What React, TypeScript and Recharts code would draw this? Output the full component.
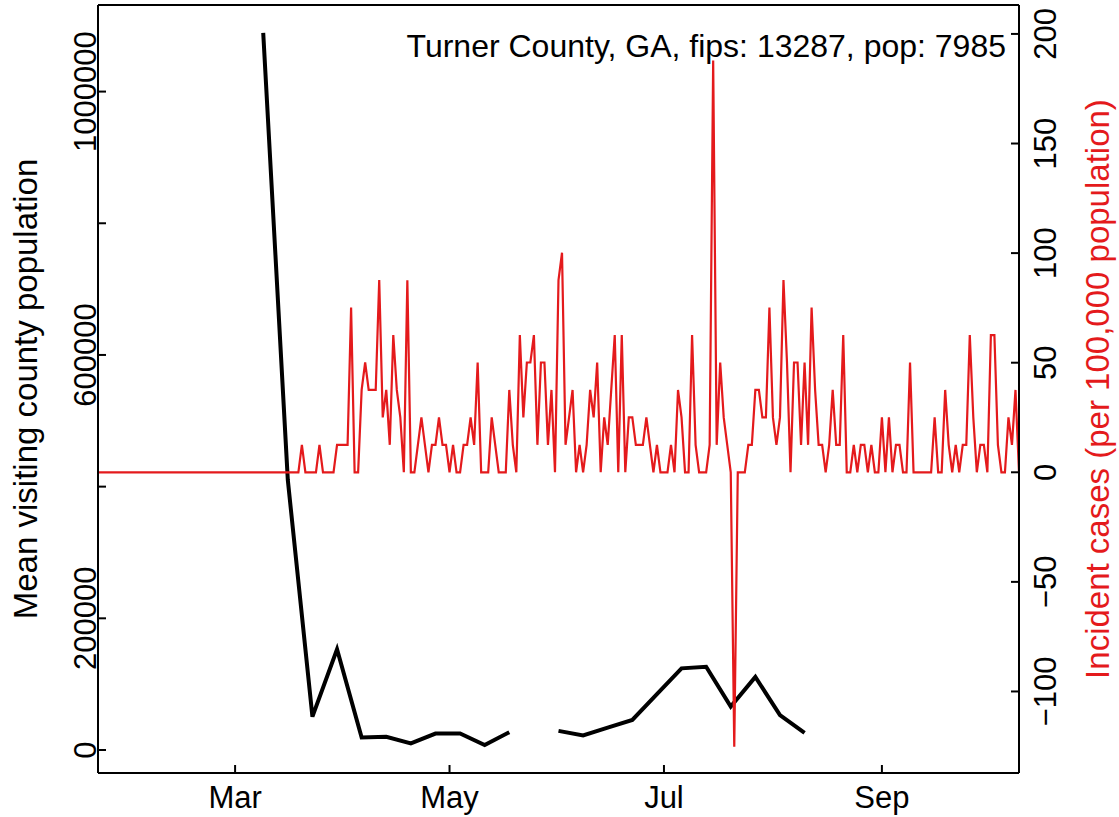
import { LineChart, Line, XAxis, YAxis, Label, ReferenceLine } from "recharts";

const FONT = "Liberation Sans, Arial, Helvetica, sans-serif";
const RED = "#E41A1C";

const COUNTY = "Turner County, GA, fips: 13287, pop: 7985";
const POPULATION = 7985;
const FIRST_DATE = "2020-01-22";

// daily new cases (counts), Jan 22 .. Oct 10 2020
const janCases = [0, 0, 0, 0, 0, 0, 0, 0, 0, 0];
const febCases = [
  0, 0, 0, 0, 0, 0, 0, 0, 0, 0, 0, 0, 0, 0, 0, 0, 0, 0, 0, 0, 0, 0, 0, 0, 0, 0, 0, 0, 0,
];
const marCases = [
  0, 0, 0, 0, 0, 0, 0, 0, 0, 0, 0, 0, 0, 0, 0, 0, 0, 0, 0, 1, 0, 0, 0, 0, 1, 0, 0, 0, 0, 1, 1,
];
const aprCases = [
  1, 1, 6, 0, 0, 3, 4, 3, 3, 3, 7, 2, 3, 1, 5, 3, 2, 0, 7, 0, 0, 1, 2, 1, 0, 1, 1, 2, 1, 1,
];
const mayCases = [
  0, 1, 0, 0, 1, 1, 2, 1, 4, 0, 0, 0, 2, 1, 0, 0, 0, 3, 1, 0, 5, 2, 4, 4, 5, 1, 4, 4, 1, 3, 0,
];
const junCases = [
  7, 8, 1, 2, 3, 0, 1, 0, 1, 3, 2, 4, 0, 2, 1, 3, 5, 0, 5, 0, 2, 2, 1, 1, 1, 2, 1, 0, 1, 0,
];
const julCases = [
  0, 0, 1, 0, 3, 2, 0, 0, 5, 1, 0, 0, 0, 1, 15, 1, 4, 2, 1, 0, -10, 0, 0, 0, 1, 1, 3, 3, 2, 2, 6,
];
const augCases = [
  2, 1, 2, 7, 4, 0, 4, 4, 1, 4, 1, 6, 3, 1, 1, 0, 1, 3, 1, 1, 5, 0, 0, 1, 0, 1, 1, 0, 1, 0, 0,
];
const sepCases = [
  2, 0, 2, 0, 1, 1, 0, 0, 4, 0, 0, 0, 0, 0, 0, 2, 0, 0, 3, 1, 0, 1, 0, 1, 1, 5, 2, 0, 1, 1,
];
const octCases = [0, 5, 5, 1, 0, 0, 2, 1, 3, 0];

// weekly mean visiting population
const visitWeeks = [
  "2020-03-09", "2020-03-16", "2020-03-23", "2020-03-30", "2020-04-06", "2020-04-13",
  "2020-04-20", "2020-04-27", "2020-05-04", "2020-05-11", "2020-05-18", "2020-05-25",
  "2020-06-01", "2020-06-08", "2020-06-15", "2020-06-22", "2020-06-29", "2020-07-06",
  "2020-07-13", "2020-07-20", "2020-07-27", "2020-08-03", "2020-08-10",
];
const visitors = [
  1089000, 410000, 50600, 153000, 19000, 20000, 10000, 25000, 25000, 7600, 27000, null,
  29000, 22000, 34000, 45600, 85000, 124000, 126500, 66000, 111000, 53000, 26000,
];

const tickDates = ["2020-03-01", "2020-05-01", "2020-07-01", "2020-09-01"];
const tickNames = ["Mar", "May", "Jul", "Sep"];
const popTicks = [0, 200000, 400000, 600000, 800000, 1000000];
const popLabels = [0, 200000, 600000, 1000000];
const caseTicks = [-100, -50, 0, 50, 100, 150, 200];
const popDomain = [-34930, 1131500];
const caseDomain = [-137.2, 213.2];

const dayOf = (d: string) =>
  Math.round((Date.parse(d) - Date.parse(FIRST_DATE)) / 86400000);

const allCases = [
  ...janCases, ...febCases, ...marCases, ...aprCases, ...mayCases,
  ...junCases, ...julCases, ...augCases, ...sepCases, ...octCases,
];
const caseData = allCases.map((c, i) => ({ day: i, rate: (c * 100000) / POPULATION }));
const visitData = visitWeeks.map((d, i) => ({ day: dayOf(d), visitors: visitors[i] }));
const lastDay = allCases.length - 1;
const tickDays = tickDates.map(dayOf);

const BottomTick = (props: any) => {
  const { x, y, payload } = props;
  const i = tickDays.indexOf(payload.value);
  return (
    <text x={x} y={y} textAnchor="middle" fontSize={31} fontFamily={FONT} fill="#000">
      {tickNames[i]}
    </text>
  );
};

const LeftTick = (props: any) => {
  const { x, y, payload } = props;
  if (!popLabels.includes(payload.value)) return <g />;
  return (
    <text
      x={x}
      y={y}
      transform={`rotate(-90 ${x} ${y})`}
      textAnchor="middle"
      fontSize={31}
      fontFamily={FONT}
      fill="#000"
    >
      {payload.value}
    </text>
  );
};

const RightTick = (props: any) => {
  const { x, y, payload } = props;
  return (
    <text
      x={x}
      y={y}
      transform={`rotate(-90 ${x} ${y})`}
      textAnchor="middle"
      fontSize={31}
      fontFamily={FONT}
      fill="#000"
    >
      {String(payload.value).replace("-", "\u2212")}
    </text>
  );
};

const sideTitle = (text: string, offset: number, color: string) => (p: any) => {
  const vb = p.viewBox;
  const cx = vb.x + offset;
  const cy = vb.y + vb.height / 2;
  return (
    <text
      x={cx}
      y={cy}
      transform={`rotate(-90 ${cx} ${cy})`}
      textAnchor="middle"
      fontSize={33}
      fontFamily={FONT}
      fill={color}
    >
      {text}
    </text>
  );
};

const axisStyle = { stroke: "#000", strokeWidth: 2 };

export default function App() {
  return (
    <div style={{ position: "absolute", left: 0, top: 0, width: 1119, height: 817, background: "#fff" }}>
      <LineChart width={1119} height={817} margin={{ top: 5, right: 0, bottom: 0, left: 0 }}>
        <XAxis
          xAxisId="b"
          type="number"
          dataKey="day"
          domain={[0, lastDay]}
          allowDataOverflow
          ticks={tickDays}
          interval={0}
          height={44}
          axisLine={axisStyle}
          tickLine={axisStyle}
          tickSize={-8}
          tickMargin={43}
          tick={<BottomTick />}
        />
        <YAxis
          yAxisId="pop"
          width={98}
          domain={popDomain}
          allowDataOverflow
          ticks={popTicks}
          interval={0}
          axisLine={axisStyle}
          tickLine={axisStyle}
          tickSize={-8}
          tickMargin={10}
          tick={<LeftTick />}
        >
          <Label content={sideTitle("Mean visiting county population", 37, "#000")} />
        </YAxis>
        <YAxis
          yAxisId="cases"
          orientation="right"
          width={100}
          domain={caseDomain}
          allowDataOverflow
          ticks={caseTicks}
          interval={0}
          axisLine={axisStyle}
          tickLine={axisStyle}
          tickSize={-8}
          tickMargin={45}
          tick={<RightTick />}
        >
          <Label content={sideTitle("Incident cases (per 100,000 population)", 90, RED)} />
        </YAxis>
        <ReferenceLine
          xAxisId="b"
          yAxisId="cases"
          y={caseDomain[1]}
          stroke="#000"
          strokeWidth={2}
          label={(p: any) => {
            const vb = p.viewBox;
            return (
              <text
                x={vb.x + vb.width - 13}
                y={vb.y + 52}
                textAnchor="end"
                fontSize={32}
                fontFamily={FONT}
                fill="#000"
              >
                {COUNTY}
              </text>
            );
          }}
        />
        <Line
          xAxisId="b"
          yAxisId="pop"
          data={visitData}
          dataKey="visitors"
          type="linear"
          stroke="#000"
          strokeWidth={4}
          dot={false}
          connectNulls={false}
          isAnimationActive={false}
        />
        <Line
          xAxisId="b"
          yAxisId="cases"
          data={caseData}
          dataKey="rate"
          type="linear"
          stroke={RED}
          strokeWidth={2.2}
          dot={false}
          isAnimationActive={false}
        />
      </LineChart>
    </div>
  );
}
